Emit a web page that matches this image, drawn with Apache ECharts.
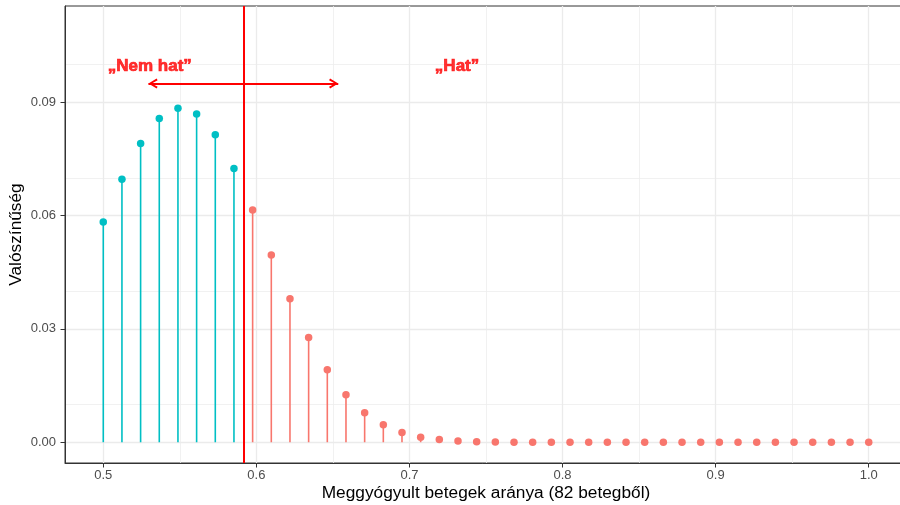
<!DOCTYPE html>
<html>
<head>
<meta charset="utf-8">
<script src="https://cdn.jsdelivr.net/npm/echarts@6/dist/echarts.min.js"></script>
<style>html,body{margin:0;padding:0;background:#fff;}#chart{width:900px;height:505px;}</style>
</head>
<body>
<div id="chart"></div>
<script>
// number of patients and cured counts
const nPatients = 82;
const curedCounts = [41,42,43,44,45,46,47,48,49,50,51,52,53,54,55,56,57,58,59,60,61,62,63,64,65,66,67,68,69,70,71,72,73,74,75,76,77,78,79,80,81,82];
// probabilities, "Nem hat" group (k = 41..48)
const probNemHat = [0.0583,0.0696,0.0791,0.0857,0.0884,0.0869,0.0814,0.0725];
// probabilities, "Hat" group (k = 49..82)
const probHat = [0.0615,0.0496,0.0380,0.0277,0.0192,0.0126,0.0078,0.0046,0.0026,0.0013,0.0007,0.0003,0.00014,0.00006,0.00002,0.00001,0,0,0,0,0,0,0,0,0,0,0,0,0,0,0,0,0,0];
const threshold = 0.5915;
const xTicks = [0.5,0.6,0.7,0.8,0.9,1.0];
const xMinorTicks = [0.55,0.65,0.75,0.85,0.95];
const yTicks = [0,0.03,0.06,0.09];
const yMinorTicks = [0.015,0.045,0.075,0.105];
const arrowY = 0.095;
const arrowX = [0.5295, 0.6535];
const labels = [[0.5304, 0.0996, '\u201ENem hat\u201D'], [0.7311, 0.0996, '\u201EHat\u201D']];

const blue = '#00BFC4', red = '#F8766D';
const allProbs = probNemHat.concat(probHat);
const pts = curedCounts.map((k, i) => {
  const c = i < probNemHat.length ? blue : red;
  return { value: [k / nPatients, allProbs[i]], itemStyle: { color: c, opacity: 1 } };
});

const font = 'Liberation Sans, Arial, Helvetica, sans-serif';
const major = { color: '#EBEBEB', width: 1.3, type: 'solid' };
const minor = { color: '#EDEDED', width: 0.8, type: 'solid' };
const gridLines = []
  .concat(xMinorTicks.map(v => ({ xAxis: v, lineStyle: minor })))
  .concat(yMinorTicks.map(v => ({ yAxis: v, lineStyle: minor })))
  .concat(xTicks.map(v => ({ xAxis: v, lineStyle: major })))
  .concat(yTicks.map(v => ({ yAxis: v, lineStyle: major })));

const arrowPath = 'path://M5,0 L5.01,0 L5,0.01 Z M5,9.2 L10,17.4 L8.3,18.4 L5,12.6 L1.7,18.4 L0,17.4 Z';

const chart = echarts.init(document.getElementById('chart'), null, { renderer: 'canvas' });
chart.setOption({
  animation: false,
  backgroundColor: '#fff',
  textStyle: { fontFamily: font },
  grid: { left: 65, right: -7, top: 6, bottom: 42, show: true, borderColor: '#333333', borderWidth: 1, containLabel: false, outerBoundsMode: 'none' },
  xAxis: {
    type: 'value', min: 0.475, max: 1.025,
    name: 'Meggyógyult betegek aránya (82 betegből)', nameLocation: 'middle', nameGap: 22, nameMoveOverlap: false,
    nameTextStyle: { color: '#000', fontSize: 17.3, fontFamily: font },
    axisLine: { show: true, onZero: false, lineStyle: { color: '#333333', width: 1 } },
    axisTick: { show: true, length: 4.5, customValues: xTicks, lineStyle: { color: '#333333', width: 1 } },
    axisLabel: { customValues: xTicks, color: '#4D4D4D', fontSize: 13, margin: 6, fontFamily: font, formatter: v => v.toFixed(1) },
    splitLine: { show: false }
  },
  yAxis: {
    type: 'value', min: -0.0055, max: 0.1155,
    name: 'Valószínűség', nameLocation: 'middle', nameGap: 40, nameRotate: 90, nameMoveOverlap: false,
    nameTextStyle: { color: '#000', fontSize: 17.3, fontFamily: font },
    axisLine: { show: true, onZero: false, lineStyle: { color: '#333333', width: 1 } },
    axisTick: { show: true, length: 4.5, customValues: yTicks, lineStyle: { color: '#333333', width: 1 } },
    axisLabel: { customValues: yTicks, color: '#4D4D4D', fontSize: 13, margin: 9, fontFamily: font, formatter: v => v.toFixed(2) },
    splitLine: { show: false }
  },
  series: [
    {
      type: 'scatter', z: 0, silent: true, symbolSize: 0, data: [[0.5, 0]],
      markLine: { z: 0, silent: true, symbol: 'none', label: { show: false }, animation: false, data: gridLines }
    },
    {
      type: 'bar', z: 3, barWidth: 1.6, silent: true,
      data: pts.map(p => ({ value: p.value, itemStyle: p.itemStyle }))
    },
    {
      type: 'scatter', z: 4, symbolSize: 7.5, silent: true,
      itemStyle: { opacity: 1 },
      data: pts
    },
    {
      type: 'scatter', z: 6, symbolSize: 0, silent: true,
      data: labels.map(l => ({ value: [l[0], l[1]], name: l[2] })),
      label: { show: true, position: 'inside', formatter: p => p.name, color: '#FF0000', fontSize: 17, fontWeight: 'bold', fontFamily: font, textBorderColor: '#FF0000', textBorderWidth: 0.7 },
      markLine: {
        z: 5, silent: true, animation: false, label: { show: false },
        data: [
          [{ coord: [threshold, -0.0055], symbol: 'none' }, { coord: [threshold, 0.1155], symbol: 'none' }],
          [{ coord: [arrowX[0], arrowY], symbol: arrowPath, symbolSize: [10, 18.4] }, { coord: [arrowX[1], arrowY], symbol: arrowPath, symbolSize: [10, 18.4] }]
        ],
        lineStyle: { color: '#FF0000', width: 2, type: 'solid', opacity: 1 }
      }
    }
  ]
});
</script>
</body>
</html>
